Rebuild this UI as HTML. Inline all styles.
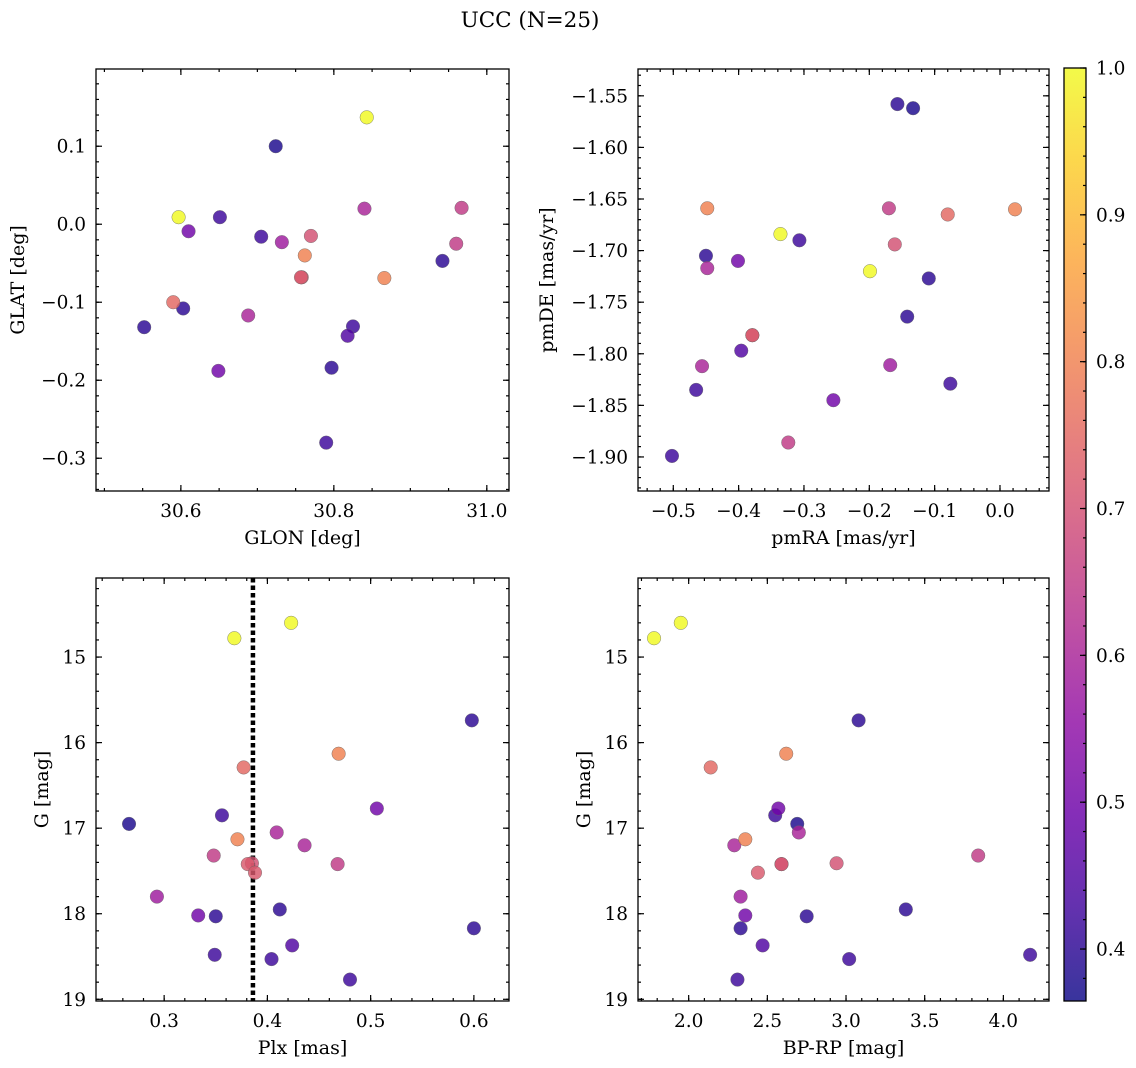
<!DOCTYPE html>
<html><head><meta charset="utf-8">
<style>
html,body{margin:0;padding:0;background:#fff;}
svg{display:block;font-family:"DejaVu Serif","Liberation Serif",serif;}
</style></head>
<body>
<svg id="fig" width="1136" height="1068" viewBox="0 0 1136 1068" xmlns="http://www.w3.org/2000/svg">
<defs>
<linearGradient id="plasma" x1="0" y1="1" x2="0" y2="0"></linearGradient>
</defs>
<text x="530" y="27" font-size="21.5" text-anchor="middle">UCC (N=25)</text>
</svg>
<script>
// ---- data ----
const prob = [1.0,1.0,0.40,0.80,0.75,0.38,0.42,0.50,0.60,0.80,0.60,0.65,0.72,0.70,0.65,0.72,0.58,0.40,0.50,0.40,0.40,0.45,0.42,0.42,0.42];
const plx  = [0.368,0.423,0.598,0.469,0.377,0.266,0.356,0.506,0.409,0.371,0.436,0.348,0.381,0.385,0.468,0.388,0.293,0.412,0.333,0.350,0.600,0.424,0.349,0.404,0.480];
const gmag = [14.78,14.60,15.74,16.13,16.29,16.95,16.85,16.77,17.05,17.13,17.20,17.32,17.42,17.41,17.42,17.52,17.80,17.95,18.02,18.03,18.17,18.37,18.48,18.53,18.77];
const bprp = [1.78,1.95,3.08,2.62,2.14,2.69,2.55,2.57,2.70,2.36,2.29,3.84,2.59,2.94,2.59,2.44,2.33,3.38,2.36,2.75,2.33,2.47,4.17,3.02,2.31];
const glon = [30.843,30.597,30.942,30.762,30.590,30.724,30.651,30.610,30.840,30.866,30.688,30.960,30.758,30.770,30.967,30.757,30.732,30.552,30.649,30.603,30.797,30.818,30.825,30.790,30.705];
const glat = [0.137,0.009,-0.047,-0.040,-0.100,0.100,0.009,-0.009,0.020,-0.069,-0.117,-0.025,-0.068,-0.015,0.021,-0.068,-0.023,-0.132,-0.188,-0.108,-0.184,-0.143,-0.131,-0.280,-0.016];
const pmra = [-0.336,-0.199,-0.157,-0.448,-0.080,-0.133,-0.307,-0.401,-0.448,0.023,-0.456,-0.170,-0.379,-0.161,-0.324,-0.379,-0.168,-0.450,-0.255,-0.109,-0.142,-0.396,-0.076,-0.465,-0.502];
const pmde = [-1.684,-1.720,-1.558,-1.659,-1.665,-1.562,-1.690,-1.710,-1.717,-1.660,-1.812,-1.659,-1.782,-1.694,-1.886,-1.782,-1.811,-1.705,-1.845,-1.727,-1.764,-1.797,-1.829,-1.835,-1.899];
const cbTicks = [0.4,0.5,0.6,0.7,0.8,0.9,1.0];
const plxLine = [0.386];

const NS="http://www.w3.org/2000/svg";
const svg=document.getElementById('fig');
function mk(tag,attrs,parent){const e=document.createElementNS(NS,tag);for(const k in attrs)e.setAttribute(k,attrs[k]);(parent||svg).appendChild(e);return e;}

const stops=[[0,[13,8,135]],[0.1,[65,4,157]],[0.2,[106,0,168]],[0.3,[143,13,164]],[0.4,[177,42,144]],[0.5,[204,71,120]],[0.6,[225,100,98]],[0.7,[242,132,75]],[0.8,[252,166,54]],[0.9,[252,206,37]],[1,[240,249,33]]];
const VMIN=0.3646,VMAX=1.0;
function plasma(t){t=Math.max(0,Math.min(1,t));for(let i=1;i<stops.length;i++){if(t<=stops[i][0]){const a=stops[i-1],b=stops[i];const f=(t-a[0])/(b[0]-a[0]);const c=a[1].map((v,j)=>Math.round(v+(b[1][j]-v)*f));return `rgb(${c[0]},${c[1]},${c[2]})`;}}return 'rgb(240,249,33)';}
function col(p){return plasma((p-VMIN)/(VMAX-VMIN));}
const grad=document.getElementById('plasma');
for(let i=0;i<=20;i++){mk('stop',{offset:(i/20),'stop-color':plasma(i/20)},grad);}

function fmt(v,d){const s=Math.abs(v).toFixed(d);return (v< -1e-9?'\u2212':'')+s;}
const TFS=18.5, LFS=19;

function panel(cfg){
  const g=mk('g',{});
  
  
  const {x0,x1,y0,y1}=cfg.box;
  const sx=v=>x0+(v-cfg.xd[0])/(cfg.xd[1]-cfg.xd[0])*(x1-x0);
  const sy=v=>cfg.yinv? y0+(v-cfg.yd[0])/(cfg.yd[1]-cfg.yd[0])*(y1-y0) : y1-(v-cfg.yd[0])/(cfg.yd[1]-cfg.yd[0])*(y1-y0);
  const tg=mk('g',{stroke:'#000','stroke-width':1.2},g);
  
  
  const lo=Math.min(...cfg.xd),hi=Math.max(...cfg.xd);
  for(let v=Math.ceil(lo/cfg.xminor-1e-6)*cfg.xminor;v<=hi+1e-9;v+=cfg.xminor){const px=sx(v);mk('line',{x1:px,x2:px,y1:y1,y2:y1-3},tg);mk('line',{x1:px,x2:px,y1:y0,y2:y0+3},tg);}
  cfg.xt.forEach(v=>{const px=sx(v);mk('line',{x1:px,x2:px,y1:y1,y2:y1-6},tg);mk('line',{x1:px,x2:px,y1:y0,y2:y0+6},tg);
    const t=mk('text',{x:px,y:y1+26,'font-size':TFS,'text-anchor':'middle',stroke:'none'},g);t.textContent=fmt(v,cfg.xdec);
    });
  const ylo=Math.min(...cfg.yd),yhi=Math.max(...cfg.yd);
  for(let v=Math.ceil(ylo/cfg.yminor-1e-6)*cfg.yminor;v<=yhi+1e-9;v+=cfg.yminor){const py=sy(v);mk('line',{x1:x0,x2:x0+3,y1:py,y2:py},tg);mk('line',{x1:x1,x2:x1-3,y1:py,y2:py},tg);}
  cfg.yt.forEach(v=>{const py=sy(v);mk('line',{x1:x0,x2:x0+6,y1:py,y2:py},tg);mk('line',{x1:x1,x2:x1-6,y1:py,y2:py},tg);
    const t=mk('text',{x:x0-10,y:py+6.5,'font-size':TFS,'text-anchor':'end'},g);t.textContent=fmt(v,cfg.ydec);
    });
  if(cfg.vline){cfg.vline.forEach(v=>{const l=mk('line',{x1:sx(v),x2:sx(v),y1:y0,y2:y1,stroke:'#000','stroke-width':4.5,'stroke-dasharray':'4.5,3'},g);
    });}
  const order=cfg.xs.map((_,i)=>i).sort((a,b)=>prob[a]-prob[b]);
  order.forEach(i=>{const c=mk('circle',{cx:sx(cfg.xs[i]),cy:sy(cfg.ys[i]),r:6.8,fill:col(prob[i]),'fill-opacity':0.82,stroke:'#666','stroke-width':0.4},g);
    });
  const fr=mk('rect',{x:x0,y:y0,width:x1-x0,height:y1-y0,fill:'none',stroke:'#000','stroke-width':1.3},g);
  
  const xl=mk('text',{x:(x0+x1)/2,y:y1+53,'font-size':LFS,'text-anchor':'middle'},g);xl.textContent=cfg.xlabel;
  
  const yx=cfg.ylx, yy=(y0+y1)/2;
  const yl=mk('text',{x:yx,y:yy,'font-size':LFS,'text-anchor':'middle',transform:`rotate(-90 ${yx} ${yy})`},g);yl.textContent=cfg.ylabel;
  
}

panel({name:'glon-glat-panel',box:{x0:96,x1:509,y0:69,y1:491},xd:[30.489,31.029],yd:[-0.342,0.199],xs:glon,ys:glat,
  xt:[30.6,30.8,31.0],xminor:0.05,xdec:1,yt:[-0.3,-0.2,-0.1,0.0,0.1],yminor:0.02,ydec:1,xlabel:'GLON [deg]',ylabel:'GLAT [deg]',ylx:24});
panel({name:'pm-panel',box:{x0:638,x1:1049,y0:69,y1:491},xd:[-0.554,0.075],yd:[-1.933,-1.524],xs:pmra,ys:pmde,
  xt:[-0.5,-0.4,-0.3,-0.2,-0.1,0.0],xminor:0.02,xdec:1,yt:[-1.9,-1.85,-1.8,-1.75,-1.7,-1.65,-1.6,-1.55],yminor:0.01,ydec:2,xlabel:'pmRA [mas/yr]',ylabel:'pmDE [mas/yr]',ylx:553});
panel({name:'plx-g-panel',box:{x0:96,x1:509,y0:578,y1:1001},xd:[0.234,0.634],yd:[14.076,19.02],yinv:true,xs:plx,ys:gmag,
  xt:[0.3,0.4,0.5,0.6],xminor:0.02,xdec:1,yt:[15,16,17,18,19],yminor:0.2,ydec:0,xlabel:'Plx [mas]',ylabel:'G [mag]',ylx:48,vline:plxLine});
panel({name:'cmd-panel',box:{x0:638,x1:1049,y0:578,y1:1001},xd:[1.678,4.29],yd:[14.076,19.02],yinv:true,xs:bprp,ys:gmag,
  xt:[2.0,2.5,3.0,3.5,4.0],xminor:0.1,xdec:1,yt:[15,16,17,18,19],yminor:0.2,ydec:0,xlabel:'BP-RP [mag]',ylabel:'G [mag]',ylx:590});

(function(){
  const x0=1064,x1=1086,y0=68,y1=1001;
  const g=mk('g',{});
  
  
  const r=mk('rect',{x:x0,y:y0,width:x1-x0,height:y1-y0,fill:'url(#plasma)','fill-opacity':0.82,stroke:'#000','stroke-width':1.3},g);
  
  const sy=v=>y1-(v-VMIN)/(VMAX-VMIN)*(y1-y0);
  for(let v=0.38;v<=1.0001;v+=0.02){const py=sy(v);mk('line',{x1:x1,x2:x1-3,y1:py,y2:py,stroke:'#000','stroke-width':1.2},g);}
  cbTicks.forEach(v=>{const py=sy(v);mk('line',{x1:x1,x2:x1-6,y1:py,y2:py,stroke:'#000','stroke-width':1.2},g);
    const t=mk('text',{x:x1+10,y:py+6.5,'font-size':TFS},g);t.textContent=v.toFixed(1);
    });
})();
</script>
</body></html>
